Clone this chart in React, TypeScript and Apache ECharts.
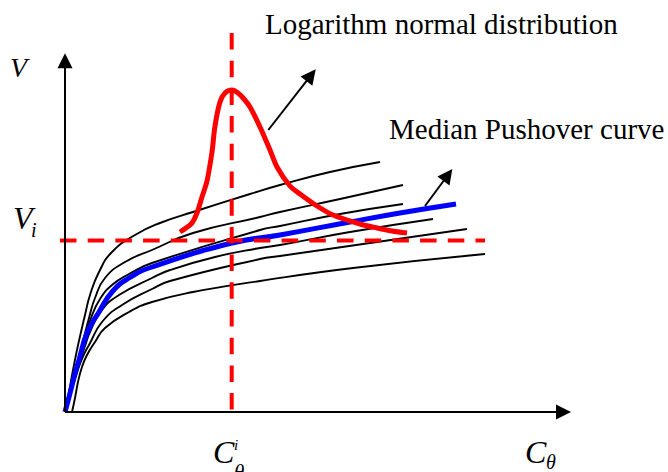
import React, { useEffect, useRef } from "react";
import * as echarts from "echarts";

// Data coordinates: C (drift) along x, V (base shear) along y, origin at axes crossing.
const curveA: number[][] = [[0,0],[4,20],[8,42],[12,62],[16,80],[20,97],[25,117],[34,140],[47,160],[70,177],[95,189],[128,200],[185,218],[215,227],[265,240],[315,250]];
const curveB: number[][] = [[0,0],[4,17],[9,36],[13,52],[17,67],[24,94],[30,114],[40,134],[60,150],[87,162],[128,179],[195,195],[215,200],[275,213],[338,227]];
const curveC: number[][] = [[0,0],[4,16],[9,36],[14,54],[20,75],[26,94],[35,113],[47,127],[64,138],[87,149],[195,182],[215,186],[275,198],[338,208]];
const curveD: number[][] = [[0,0],[5,18],[10,36],[15,52],[20,66],[25,80],[37,102],[54,117],[87,134],[105,142],[150,155],[195,164],[215,167],[285,180],[368,193]];
const curveE: number[][] = [[0,0],[5,17],[10,33],[15,48],[20,60],[24,67],[37,90],[57,107],[87,123],[105,131],[195,153],[215,156],[305,169],[402,183]];
const curveF: number[][] = [[7,0],[10,14],[13,30],[17,45],[22,57],[30,70],[40,84],[64,100],[87,110],[128,120],[195,131],[288,144],[420,158]];
const medianCurve: number[][] = [[0,0],[4,15],[11,42],[14,52],[22,79],[34,100],[47,120],[64,134],[87,145],[167,169],[215,177],[285,190],[335,199],[391,208]];
const lognormal: number[][] = [[115,180],[121,184],[127,189],[132,199],[137,215],[142,231],[147,260],[150,286],[155,310],[160,319],[167,322],[173,319],[179,313],[185,305],[195,285],[205,262],[212,245],[225,226],[235,218],[252,206],[268,197],[295,188],[312,184],[327,181],[342,179]];

const Vi = 171.5;      // horizontal reference level
const Ci = 166.7;      // vertical reference drift
const hLine: number[][] = [[-5, Vi], [420, Vi]];
const vLine: number[][] = [[Ci, 379], [Ci, -1]];

const xAxisArrow: number[][] = [[0, 0], [498.5, 0]];
const yAxisArrow: number[][] = [[0, 0], [0, 351.2]];
const lognormalPointer: number[][] = [[203.3, 282], [246.1, 336.8]];
const medianPointer: number[][] = [[360, 206], [382.9, 237]];

const serif = '"Liberation Serif", "Times New Roman", serif';

export default function App() {
  const ref = useRef<HTMLDivElement>(null);
  useEffect(() => {
    document.body.style.margin = "0";
    const chart = echarts.init(ref.current!, null, { renderer: "svg" });
    const black = (d: number[][]) => ({
      type: "line", data: d, smooth: 0.5, symbol: "none", clip: false, z: 2,
      lineStyle: { color: "#000", width: 1.9 },
    });
    chart.setOption({
      animation: false,
      backgroundColor: "#fff",
      grid: { left: 0, right: 0, top: 0, bottom: 0 },
      xAxis: { type: "value", min: -65, max: 603, show: false },
      yAxis: { type: "value", min: -60, max: 412, show: false },
      series: [
        black(curveA), black(curveB), black(curveC), black(curveD), black(curveE), black(curveF),
        { type: "line", data: medianCurve, smooth: 0.5, symbol: "none", clip: false, z: 3,
          lineStyle: { color: "#0000ff", width: 5 } },
        { type: "line", data: hLine, symbol: "none", clip: false, z: 4,
          lineStyle: { color: "#ff0000", width: 4, type: [16.5, 11.2] } },
        { type: "line", data: vLine, symbol: "none", clip: false, z: 4,
          lineStyle: { color: "#ff0000", width: 4, type: [16.5, 11.2] } },
        { type: "line", data: lognormal, smooth: 0.3, symbol: "none", clip: false, z: 5,
          lineStyle: { color: "#ff0000", width: 5 } },
        { type: "lines", coordinateSystem: "cartesian2d", z: 6,
          symbol: ["none", "triangle"], symbolSize: [16, 15],
          lineStyle: { color: "#000", width: 2, opacity: 1, curveness: 0 },
          data: [{ coords: xAxisArrow }, { coords: yAxisArrow }] },
        { type: "lines", coordinateSystem: "cartesian2d", z: 6,
          symbol: ["none", "triangle"], symbolSize: [12, 15],
          lineStyle: { color: "#000", width: 2, opacity: 1, curveness: 0 },
          data: [{ coords: lognormalPointer }, { coords: medianPointer }] },
      ],
      graphic: [
        { type: "text", x: 265, y: 24, style: { text: "Logarithm normal distribution", font: `29px ${serif}`, fill: "#000", verticalAlign: "middle" } },
        { type: "text", x: 389, y: 129, style: { text: "Median Pushover curve", font: `29px ${serif}`, fill: "#000", verticalAlign: "middle" } },
        { type: "text", x: 10, y: 67, style: { text: "V", font: `italic 28px ${serif}`, fill: "#000", verticalAlign: "middle" } },
        { type: "text", x: 13, y: 217.5, style: { text: "V", font: `italic 32px ${serif}`, fill: "#000", verticalAlign: "middle" } },
        { type: "text", x: 31, y: 230, style: { text: "i", font: `italic 20px ${serif}`, fill: "#000", verticalAlign: "middle" } },
        { type: "text", x: 213, y: 451.5, style: { text: "C", font: `italic 32px ${serif}`, fill: "#000", verticalAlign: "middle" } },
        { type: "text", x: 234, y: 445, style: { text: "i", font: `italic 15px ${serif}`, fill: "#000", verticalAlign: "middle" } },
        { type: "text", x: 234, y: 472, style: { text: "θ", font: `italic 21px ${serif}`, fill: "#000", verticalAlign: "middle" } },
        { type: "text", x: 525, y: 452, style: { text: "C", font: `italic 32px ${serif}`, fill: "#000", verticalAlign: "middle" } },
        { type: "text", x: 546, y: 461.5, style: { text: "θ", font: `italic 20px ${serif}`, fill: "#000", verticalAlign: "middle" } },
      ],
    });
    return () => chart.dispose();
  }, []);
  return <div ref={ref} style={{ width: 668, height: 472, position: "fixed", left: 0, top: 0 }} />;
}
